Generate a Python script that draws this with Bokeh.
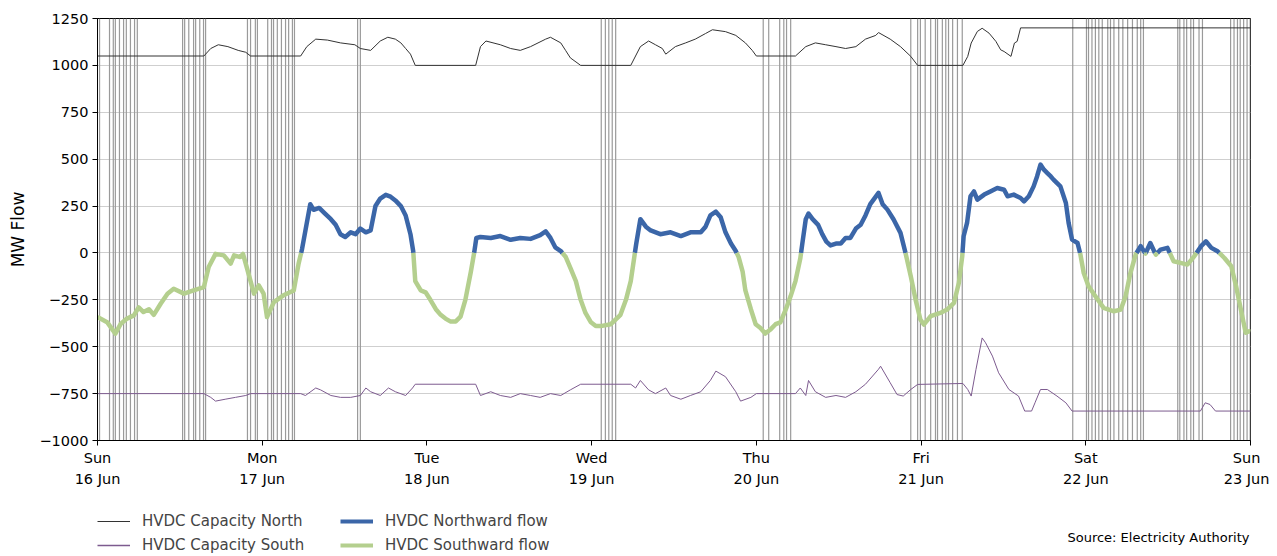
import math
from bokeh.plotting import figure
from bokeh.layouts import column
from bokeh.models import Range1d, FixedTicker, Span, Legend, LegendItem, Label
from bokeh.embed import file_html
from bokeh.resources import INLINE

# ---------------- data (hours since Sun 16 Jun 00:00) ----------------
day_labels = ["Sun\n16 Jun", "Mon\n17 Jun", "Tue\n18 Jun", "Wed\n19 Jun",
              "Thu\n20 Jun", "Fri\n21 Jun", "Sat\n22 Jun", "Sun\n23 Jun"]
day_hours = [0, 24, 48, 72, 96, 120, 144, 168]
y_ticks = [-1000, -750, -500, -250, 0, 250, 500, 750, 1000, 1250]

flow_hours = [0, 1.4, 2.6, 3.4, 4.3, 5.3, 6.0, 6.7, 7.5, 8.2, 9.2, 10.2, 11.1, 12.6, 14.0,
              15.5, 16.2, 17.2, 18.4, 19.4, 19.9, 20.8, 21.2, 22.0, 22.8, 23.5, 24.2, 24.7,
              25.7, 27.1, 28.6, 29.3, 29.8, 30.3, 31.0, 31.5, 32.3, 33.0, 34.0, 34.7, 35.4,
              36.1, 36.9, 37.6, 38.3, 39.1, 39.8, 40.5, 41.2, 42.0, 42.7, 43.4, 44.2, 44.9,
              45.6, 46.0, 46.3, 47.1, 47.8, 48.5, 49.3, 50.0, 50.7, 51.4, 52.2, 52.9, 53.6,
              54.4, 54.9, 55.2, 55.8, 57.3, 58.7, 60.2, 61.6, 63.1, 64.5, 65.3, 66.0, 66.7,
              67.5, 68.2, 68.9, 69.7, 70.4, 71.1, 71.9, 72.6, 73.3, 74.8, 76.2, 77.0, 77.7,
              78.1, 78.5, 79.1, 79.9, 80.6, 82.0, 83.5, 85.0, 86.4, 87.9, 88.6, 89.3, 90.1,
              90.8, 91.5, 92.3, 93.0, 93.4, 94.0, 94.4, 95.2, 95.9, 96.6, 97.3, 98.0, 98.8,
              99.5, 100.3, 101.0, 101.7, 102.4, 102.7, 103.2, 103.6, 104.2, 105.0, 105.6,
              106.2, 106.8, 107.6, 108.3, 109.0, 109.7, 110.5, 111.2, 111.9, 112.6, 113.4,
              113.8, 114.4, 115.1, 116.0, 117.0, 117.7, 118.5, 119.2, 119.9, 120.4, 121.4,
              122.8, 123.8, 124.8, 125.5, 126.0, 126.2, 126.7, 127.2, 127.7, 128.2, 129.2,
              130.1, 131.1, 132.1, 132.6, 133.5, 134.5, 135.0, 135.7, 136.4, 136.9, 137.4,
              137.9, 138.4, 138.9, 139.3, 140.3, 141.1, 141.5, 142.0, 142.8, 143.2, 143.7,
              144.4, 145.4, 146.6, 148.1, 149.1, 149.8, 150.5, 151.3, 152.0, 152.7, 153.4,
              154.2, 154.9, 155.9, 156.8, 157.8, 158.8, 159.8, 160.8, 161.5, 162.3, 163.2,
              164.2, 165.2, 165.9, 166.6, 167.3, 167.8, 168.0]
flow_mw = [-342, -369, -430, -377, -350, -333, -290, -315, -300, -330, -271, -217, -191, -217, -200,
           -182, -75, -5, -13, -57, -13, -22, -5, -110, -217, -173, -217, -342,
           -262, -226, -200, -57, 20, 120, 260, 230, 240, 215, 180, 150, 100,
           85, 110, 100, 130, 110, 120, 250, 290, 310, 300, 280, 250, 200,
           100, 10, -150, -200, -210, -250, -300, -330, -350, -365, -365, -340, -250,
           -100, 5, 80, 85, 80, 90, 70, 80, 75, 95, 115, 80, 30,
           10, -20, -80, -150, -250, -320, -370, -390, -390, -380, -330, -250, -150,
           -50, 50, 180, 140, 120, 100, 110, 90, 110, 110, 140, 200, 220,
           190, 110, 50, 10, -20, -100, -200, -300, -380, -400, -430, -410, -380,
           -370, -300, -230, -150, -30, 50, 180, 210, 180, 150, 100,
           60, 40, 50, 50, 80, 80, 130, 150, 200, 260, 300,
           320, 260, 231, 178, 107, 5, -124, -249, -355, -382, -337,
           -320, -302, -266, -160, -18, 89, 160, 302, 328, 284, 311,
           328, 346, 337, 302, 311, 293, 275, 302, 355, 408, 471,
           444, 426, 408, 391, 355, 266, 160, 71, 53, -5, -107,
           -178, -231, -293, -311, -302, -231, -107, -5, 36, -3, 53,
           -9, 18, 27, -44, -53, -62, -18, 36, 62, 27, 9,
           -27, -71, -178, -302, -426, -417, -420]

cap_north_hours = [0, 15.5, 16.5, 17.6, 19.0, 20.5, 21.6, 22.3, 29.6, 30.5, 31.8, 33.5, 35.4,
                   37.5, 38.3, 39.8, 41.2, 42.3, 43.4, 44.2, 44.9, 45.6, 46.3, 55.1, 55.8,
                   56.6, 58.7, 60.2, 61.6, 63.1, 65.3, 66.0, 67.5, 68.2, 68.9, 70.4, 77.7,
                   79.1, 80.3, 81.3, 82.3, 82.8, 84.2, 85.7, 87.1, 88.6, 89.6, 91.5, 93.0,
                   94.4, 95.4, 96.0, 101.7, 103.2, 104.6, 106.1, 107.6, 109.0, 110.5, 111.9,
                   113.4, 113.8, 115.5, 117.0, 118.5, 119.5, 126.1, 126.8, 127.3, 128.2,
                   128.9, 129.9, 130.9, 131.6, 132.1, 133.1, 133.6, 134.0, 134.5, 168.0]
cap_north_mw = [1050, 1050, 1090, 1110, 1100, 1080, 1070, 1050, 1050, 1100, 1140, 1135, 1120,
                1110, 1090, 1080, 1130, 1150, 1140, 1120, 1090, 1060, 1000, 1000, 1100,
                1130, 1110, 1090, 1080, 1100, 1140, 1150, 1120, 1080, 1040, 1000, 1000,
                1100, 1130, 1110, 1090, 1060, 1100, 1120, 1140, 1170, 1190, 1180, 1160,
                1120, 1080, 1050, 1050, 1100, 1120, 1110, 1100, 1090, 1100, 1140,
                1160, 1175, 1140, 1100, 1048, 1000, 1000, 1048, 1119, 1181,
                1198, 1172, 1128, 1083, 1074, 1048, 1119, 1128, 1200, 1200]

cap_south_hours = [0, 15.5, 16.5, 17.2, 18.6, 20.1, 21.6, 22.3, 29.6, 30.3, 31.8, 32.5, 34.0,
                   35.4, 36.9, 38.3, 39.1, 39.8, 41.2, 42.4, 43.4, 44.9, 45.9, 46.3, 55.1,
                   55.8, 57.3, 58.7, 60.2, 61.6, 63.1, 64.5, 66.0, 67.5, 68.9, 70.4, 77.7,
                   78.4, 79.1, 80.3, 81.3, 82.8, 83.5, 85.0, 86.4, 87.9, 89.3, 90.1, 91.5,
                   93.0, 93.7, 95.2, 96.0, 101.7, 102.4, 103.2, 103.6, 104.6, 106.1, 107.6,
                   109.0, 110.5, 111.9, 113.8, 114.1, 115.5, 116.5, 117.4, 118.5, 119.5,
                   126.1, 126.8, 127.3, 128.0, 128.9, 129.4, 130.4, 131.3, 132.8, 134.2,
                   135.1, 136.1, 136.6, 137.4, 138.4, 139.8, 141.1, 142.0, 160.7, 161.4,
                   162.1, 162.9, 168.0]
cap_south_mw = [-750, -750, -770, -790, -780, -770, -760, -750, -750, -760, -720, -730, -760,
                -770, -770, -760, -720, -740, -760, -720, -740, -760, -720, -700, -700,
                -760, -740, -760, -770, -750, -760, -770, -750, -760, -730, -700, -700,
                -720, -680, -730, -750, -720, -760, -780, -760, -740, -680, -630, -660,
                -740, -790, -770, -750, -750, -720, -760, -680, -740, -770, -760,
                -770, -740, -700, -620, -604, -692, -755, -763, -728, -701,
                -696, -728, -763, -621, -453, -479, -550, -639, -728, -763,
                -843, -843, -799, -728, -728, -763, -799, -843, -843, -799,
                -808, -843, -843]

# trading periods marked with vertical lines (hours)
marked_hours = [0.3, 1.75, 2.3, 2.6, 3.2, 3.8, 4.2, 4.8, 5.4, 5.8,
                12.4, 12.7, 13.3, 14.0, 14.3, 14.9, 15.45, 15.75,
                21.85, 22.3, 23.0, 23.3,
                24.8, 25.35, 25.65, 26.2, 26.8, 27.4, 27.85, 28.4, 28.7,
                37.9, 38.3,
                73.4, 74.0, 74.5, 75.0, 75.5,
                97.0, 97.8, 99.4, 100.0, 100.4, 101.0,
                118.5, 119.5, 119.9, 120.6, 121.4, 122.1, 122.4, 123.1, 123.6, 124.0, 124.6,
                125.3, 126.0,
                142.1, 144.1, 144.4, 144.9, 145.4, 145.9, 146.4, 147.2, 147.6, 148.1, 148.8,
                149.4, 150.1, 150.8, 151.5, 152.0, 152.4,
                157.4, 157.7, 158.3, 158.7, 159.3, 159.7, 160.5, 161.0,
                165.1, 165.6, 166.1, 166.5, 167.0, 167.5, 167.95]

legend_col1 = ["HVDC Capacity North", "HVDC Capacity South"]
legend_col2 = ["HVDC Northward flow", "HVDC Southward flow"]
source_text = "Source: Electricity Authority"

# ---------------- split flow by direction ----------------
px, py = [], []
for i in range(len(flow_hours)):
    if i > 0:
        a, b = flow_mw[i - 1], flow_mw[i]
        if a != 0 and b != 0 and (a < 0) != (b < 0):
            t = a / (a - b)
            px.append(flow_hours[i - 1] + t * (flow_hours[i] - flow_hours[i - 1]))
            py.append(0.0)
    px.append(flow_hours[i])
    py.append(flow_mw[i])
north_y = [v if v >= 0 else math.nan for v in py]
south_y = [v if v <= 0 else math.nan for v in py]

FONT = "DejaVu Sans"
C_NORTH_CAP = "#333333"
C_SOUTH_CAP = "#7d5b8f"
C_NORTH = "#3b66a8"
C_SOUTH = "#b4cf8e"
W = 1269

p = figure(width=W, height=490, output_backend="svg", toolbar_location=None,
           x_range=Range1d(0, 168), y_range=Range1d(-1000, 1250),
           min_border_left=97, min_border_right=19, min_border_top=18, min_border_bottom=50)
p.background_fill_color = "white"
p.border_fill_color = "white"
p.outline_line_color = "black"
p.outline_line_width = 1

for h in marked_hours:
    p.add_layout(Span(location=h, dimension="height", line_color="#9a9a9a",
                      line_width=1.2, level="underlay"))

p.line(cap_north_hours, cap_north_mw, line_color=C_NORTH_CAP, line_width=1)
p.line(cap_south_hours, cap_south_mw, line_color=C_SOUTH_CAP, line_width=1)
p.line(px, north_y, line_color=C_NORTH, line_width=4.5, line_join="round")
p.line(px, south_y, line_color=C_SOUTH, line_width=4.5, line_join="round")

# axes
p.xaxis.ticker = FixedTicker(ticks=day_hours)
p.xaxis.major_label_overrides = {h: lab for h, lab in zip(day_hours, day_labels)}
p.yaxis.ticker = FixedTicker(ticks=y_ticks)
p.yaxis.major_label_overrides = {t: str(t).replace("-", "\u2212") for t in y_ticks}
for ax in (p.xaxis[0], p.yaxis[0]):
    ax.major_label_text_font = FONT
    ax.major_label_text_font_size = "14.5px"
    ax.major_label_text_color = "black"
    ax.axis_line_color = "black"
    ax.major_tick_line_color = "black"
    ax.major_tick_out = 5
    ax.major_tick_in = 0
    ax.minor_tick_line_color = None
    ax.major_label_standoff = 4
p.xaxis.major_label_text_line_height = 1.35
p.yaxis.axis_label = "MW Flow"
p.yaxis.axis_label_text_font = FONT
p.yaxis.axis_label_text_font_size = "17px"
p.yaxis.axis_label_text_font_style = "normal"
p.yaxis.axis_label_text_color = "black"
p.yaxis.axis_label_standoff = 8

p.xgrid.grid_line_color = None
p.ygrid.grid_line_color = "#cfcfcf"
p.ygrid.grid_line_width = 1

# ---------------- legend strip (its frame is aligned with the plot frame) ----------------
q = figure(width=W, height=66, output_backend="svg", toolbar_location=None,
           x_range=Range1d(0, 1), y_range=Range1d(0, 1),
           x_axis_type=None, y_axis_type=None,
           min_border_left=0, min_border_right=0, min_border_top=0, min_border_bottom=0)
q.outline_line_color = None
q.grid.grid_line_color = None
q.background_fill_color = "white"
q.border_fill_color = "white"

nan2 = [math.nan]
l_nc = q.line(nan2, nan2, line_color=C_NORTH_CAP, line_width=1)
l_sc = q.line(nan2, nan2, line_color=C_SOUTH_CAP, line_width=1.5)
l_n = q.line(nan2, nan2, line_color=C_NORTH, line_width=4)
l_s = q.line(nan2, nan2, line_color=C_SOUTH, line_width=4)


def make_legend(labels, renderers, x):
    return Legend(items=[LegendItem(label=lab, renderers=[r]) for lab, r in zip(labels, renderers)],
                  location=(x, 2), orientation="vertical",
                  padding=0, margin=0, spacing=6, label_height=16, glyph_height=16,
                  glyph_width=33, label_standoff=12,
                  label_text_font=FONT, label_text_font_size="15px",
                  background_fill_alpha=0, border_line_color=None)


q.add_layout(make_legend(legend_col1, [l_nc, l_sc], 0))
q.add_layout(make_legend(legend_col2, [l_n, l_s], 243))
q.add_layout(Label(x=1152, y=19, x_units="screen", y_units="screen",
                   text=source_text, text_align="right",
                   text_baseline="middle", text_font=FONT, text_font_size="13px",
                   text_color="black"))

layout = column(p, q, spacing=0)
open("out.html", "w").write(file_html(layout, INLINE))
